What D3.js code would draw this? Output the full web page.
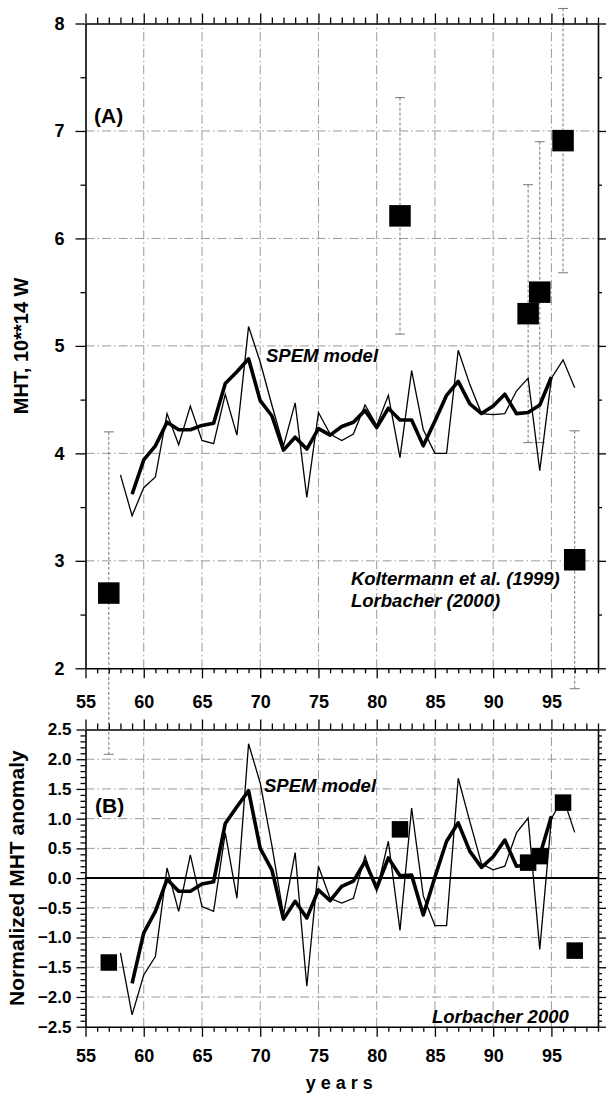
<!DOCTYPE html>
<html>
<head>
<meta charset="utf-8">
<script src="https://cdn.jsdelivr.net/npm/d3@7"></script>
<style>
  body { margin: 0; background: #fff; }
  svg { display: block; font-family: "Liberation Sans", Arial, sans-serif; }
</style>
</head>
<body>
<div id="chart"></div>
<script>
// years of the two model curves
const thinYears = [58, 59, 60, 61, 62, 63, 64, 65, 66, 67, 68, 69, 70, 71, 72, 73, 74, 75, 76, 77,
  78, 79, 80, 81, 82, 83, 84, 85, 86, 87, 88, 89, 90, 91, 92, 93, 94, 95, 96, 97];
const thickYears = [59, 60, 61, 62, 63, 64, 65, 66, 67, 68, 69, 70, 71, 72, 73, 74, 75, 76, 77,
  78, 79, 80, 81, 82, 83, 84, 85, 86, 87, 88, 89, 90, 91, 92, 93, 94, 95];

// panel A: MHT, 10**14 W
const thinA = [3.80, 3.42, 3.68, 3.78, 4.37, 4.08, 4.44, 4.12, 4.09, 4.55, 4.17, 5.18, 4.85, 4.45,
  4.07, 4.47, 3.59, 4.38, 4.18, 4.12, 4.18, 4.45, 4.26, 4.54, 3.96, 4.77, 4.22, 4.00, 4.00, 4.96,
  4.64, 4.37, 4.36, 4.37, 4.58, 4.70, 3.84, 4.70, 4.87, 4.61];
const thickA = [3.62, 3.94, 4.07, 4.29, 4.22, 4.22, 4.26, 4.28, 4.65, 4.76, 4.88, 4.49, 4.35, 4.03,
  4.15, 4.04, 4.23, 4.17, 4.25, 4.29, 4.40, 4.24, 4.42, 4.31, 4.31, 4.07, 4.30, 4.54, 4.67, 4.46,
  4.37, 4.44, 4.55, 4.37, 4.38, 4.45, 4.71];

// panel B: normalized anomaly
const thinB = [-1.26, -2.30, -1.63, -1.32, 0.17, -0.56, 0.39, -0.48, -0.56, 0.76, -0.34, 2.26, 1.60,
  0.55, -0.62, 0.43, -1.82, 0.20, -0.34, -0.42, -0.34, 0.37, -0.22, 0.62, -0.88, 1.18, -0.30, -0.80,
  -0.80, 1.68, 0.95, 0.24, 0.14, 0.20, 0.76, 1.01, -1.20, 1.00, 1.36, 0.77];
const thickB = [-1.77, -0.92, -0.56, -0.02, -0.22, -0.22, -0.10, -0.06, 0.92, 1.20, 1.47, 0.50, 0.14,
  -0.69, -0.39, -0.67, -0.20, -0.38, -0.14, -0.05, 0.28, -0.17, 0.34, 0.04, 0.05, -0.62, 0.02, 0.62,
  0.93, 0.45, 0.18, 0.36, 0.64, 0.20, 0.22, 0.38, 1.04];

// observations (Koltermann et al. 1999, Lorbacher 2000)
const obsYears = [57, 82, 93, 94, 96, 97];
const obsA = [2.70, 6.21, 5.30, 5.50, 6.91, 3.01];
const obsErrA = [1.5, 1.1, 1.2, 1.4, 1.23, 1.2];
const obsB = [-1.42, 0.82, 0.26, 0.37, 1.27, -1.22];

// axis ticks
const xMajorTicks = [55, 60, 65, 70, 75, 80, 85, 90, 95];
const xGridTicks = [60, 65, 70, 75, 80, 85, 90, 95];
const yTicksA = [2, 3, 4, 5, 6, 7, 8];
const yGridA = [3, 4, 5, 6, 7];
const yTicksB = [-2.5, -2.0, -1.5, -1.0, -0.5, 0.0, 0.5, 1.0, 1.5, 2.0, 2.5];
const yGridB = [-2.0, -1.5, -1.0, -0.5, 0.5, 1.0, 1.5, 2.0];

const width = 607;
const height = 1094;
const gridColor = '#9a9a9a';
const gridDash = '9,3,1.5,3';
const labelFont = '18px';

const svg = d3.select('#chart')
  .append('svg')
  .attr('width', width)
  .attr('height', height);

svg.append('rect').attr('width', width).attr('height', height).attr('fill', 'white');

const xScale = d3.scaleLinear().domain([55, 99]).range([85.5, 598]);
const yA = d3.scaleLinear().domain([2, 8]).range([668.3, 23.5]);
const yB = d3.scaleLinear().domain([-2.5, 2.5]).range([1026.7, 729.5]);

const minorYears = d3.range(55, 100).filter(v => v % 5 !== 0);

function drawGrid(g, yScale, yGrid) {
  const [y0, y1] = yScale.range();
  g.append('g')
    .selectAll('line')
    .data(xGridTicks)
    .join('line')
    .attr('x1', d => xScale(d)).attr('x2', d => xScale(d))
    .attr('y1', y0).attr('y2', y1)
    .attr('stroke', gridColor)
    .attr('stroke-width', 1)
    .attr('stroke-dasharray', gridDash);

  g.append('g')
    .selectAll('line')
    .data(yGrid)
    .join('line')
    .attr('x1', xScale.range()[0]).attr('x2', xScale.range()[1])
    .attr('y1', d => yScale(d)).attr('y2', d => yScale(d))
    .attr('stroke', gridColor)
    .attr('stroke-width', 1)
    .attr('stroke-dasharray', gridDash);
}

function styleAxis(sel, fontSize) {
  sel.select('.domain').attr('stroke', '#000').attr('stroke-width', 1.6);
  sel.selectAll('line').attr('stroke', '#000').attr('stroke-width', 1.3);
  sel.selectAll('text')
    .attr('fill', '#000')
    .attr('font-weight', 'bold')
    .attr('font-size', fontSize)
    .attr('font-family', '"Liberation Sans", Arial, sans-serif');
}

function drawFrame(g, yScale, yMajor, yMinor, opts) {
  const [yBottom, yTop] = yScale.range();
  const [xLeft, xRight] = xScale.range();

  // bottom axis with labels
  const bottom = g.append('g')
    .attr('transform', `translate(0, ${yBottom})`)
    .call(d3.axisBottom(xScale).tickValues(xMajorTicks).tickSize(10).tickSizeOuter(0)
      .tickPadding(opts.xPad).tickFormat(d3.format('d')));
  styleAxis(bottom, labelFont);
  g.append('g')
    .attr('transform', `translate(0, ${yBottom})`)
    .call(d3.axisBottom(xScale).tickValues(minorYears).tickSize(5).tickFormat(''))
    .call(s => { s.select('.domain').remove(); styleAxis(s, labelFont); });

  // top axis
  const top = g.append('g')
    .attr('transform', `translate(0, ${yTop})`)
    .call(d3.axisTop(xScale).tickValues(xMajorTicks).tickSize(10).tickSizeOuter(0).tickFormat(''));
  styleAxis(top, labelFont);
  g.append('g')
    .attr('transform', `translate(0, ${yTop})`)
    .call(d3.axisTop(xScale).tickValues(minorYears).tickSize(6).tickFormat(''))
    .call(s => { s.select('.domain').remove(); styleAxis(s, labelFont); });

  // left axis with labels
  const left = g.append('g')
    .attr('transform', `translate(${xLeft}, 0)`)
    .call(d3.axisLeft(yScale).tickValues(yMajor).tickSize(opts.yMajorSize).tickSizeOuter(0)
      .tickPadding(opts.yPad).tickFormat(opts.yFormat));
  styleAxis(left, opts.yFont);
  g.append('g')
    .attr('transform', `translate(${xLeft}, 0)`)
    .call(d3.axisLeft(yScale).tickValues(yMinor).tickSize(opts.yMinorSize).tickFormat(''))
    .call(s => { s.select('.domain').remove(); styleAxis(s, labelFont); });

  // right axis
  const right = g.append('g')
    .attr('transform', `translate(${xRight}, 0)`)
    .call(d3.axisRight(yScale).tickValues(yMajor).tickSize(8).tickSizeOuter(0).tickFormat(''));
  styleAxis(right, labelFont);
  g.append('g')
    .attr('transform', `translate(${xRight}, 0)`)
    .call(d3.axisRight(yScale).tickValues(yMinor).tickSize(4).tickFormat(''))
    .call(s => { s.select('.domain').remove(); styleAxis(s, labelFont); });
}

function drawCurves(g, yScale, thin, thick) {
  const line = d3.line()
    .x(d => xScale(d[0]))
    .y(d => yScale(d[1]));

  g.append('path')
    .datum(d3.zip(thinYears, thin))
    .attr('fill', 'none')
    .attr('stroke', '#000')
    .attr('stroke-width', 1.3)
    .attr('stroke-linejoin', 'miter')
    .attr('d', line);

  g.append('path')
    .datum(d3.zip(thickYears, thick))
    .attr('fill', 'none')
    .attr('stroke', '#000')
    .attr('stroke-width', 3.6)
    .attr('stroke-linejoin', 'round')
    .attr('d', line);
}

function drawSquares(g, yScale, values, size) {
  g.append('g')
    .selectAll('rect')
    .data(d3.zip(obsYears, values))
    .join('rect')
    .attr('x', d => xScale(d[0]) - size / 2)
    .attr('y', d => yScale(d[1]) - size / 2)
    .attr('width', size)
    .attr('height', size)
    .attr('fill', '#000');
}

function addText(g, txt, x, y, size, italic, anchor) {
  g.append('text')
    .attr('x', x)
    .attr('y', y)
    .attr('font-size', size)
    .attr('font-weight', 'bold')
    .attr('font-style', italic ? 'italic' : 'normal')
    .attr('text-anchor', anchor || 'start')
    .attr('fill', '#000')
    .text(txt);
}

/* ---------- panel A ---------- */
const panelA = svg.append('g').attr('class', 'panel-a');
drawGrid(panelA, yA, yGridA);

// error bars of the observations
const errBars = panelA.append('g');
d3.zip(obsYears, obsA, obsErrA).forEach(([yr, v, e]) => {
  const cx = xScale(yr);
  errBars.append('line')
    .attr('x1', cx).attr('x2', cx)
    .attr('y1', yA(v + e)).attr('y2', yA(v - e))
    .attr('stroke', '#777')
    .attr('stroke-width', 1)
    .attr('stroke-dasharray', '3,2');
  [v + e, v - e].forEach(end => {
    errBars.append('line')
      .attr('x1', cx - 5).attr('x2', cx + 5)
      .attr('y1', yA(end)).attr('y2', yA(end))
      .attr('stroke', '#777')
      .attr('stroke-width', 1);
  });
});

drawCurves(panelA, yA, thinA, thickA);
drawSquares(panelA, yA, obsA, 21.5);
drawFrame(panelA, yA, yTicksA, [2.5, 3.5, 4.5, 5.5, 6.5, 7.5], {
  xPad: 17, yPad: 11, yMajorSize: 10, yMinorSize: 5, yFont: labelFont, yFormat: d3.format('d')
});

addText(panelA, '(A)', 94, 123, '21px', false);
addText(panelA, 'SPEM model', 266, 362, '18.5px', true);
addText(panelA, 'Koltermann et al. (1999)', 351, 585, '18.5px', true);
addText(panelA, 'Lorbacher (2000)', 351, 607, '18.5px', true);

svg.append('text')
  .attr('transform', `translate(28, ${(yA.range()[0] + yA.range()[1]) / 2}) rotate(-90)`)
  .attr('text-anchor', 'middle')
  .attr('font-size', '20px')
  .attr('font-weight', 'bold')
  .text('MHT, 10**14 W');

/* ---------- panel B ---------- */
const panelB = svg.append('g').attr('class', 'panel-b');
drawGrid(panelB, yB, yGridB);

panelB.append('line')
  .attr('x1', xScale.range()[0]).attr('x2', xScale.range()[1])
  .attr('y1', yB(0)).attr('y2', yB(0))
  .attr('stroke', '#000')
  .attr('stroke-width', 2);

drawCurves(panelB, yB, thinB, thickB);
drawSquares(panelB, yB, obsB, 16.5);
drawFrame(panelB, yB, yTicksB, d3.range(-25, 26).filter(v => v % 5 !== 0).map(v => v / 10), {
  xPad: 13, yPad: 5, yMajorSize: 9, yMinorSize: 5, yFont: '17px', yFormat: d3.format('.1f')
});

addText(panelB, '(B)', 95, 813, '21px', false);
addText(panelB, 'SPEM model', 264, 792, '18.5px', true);
addText(panelB, 'Lorbacher 2000', 432, 1023, '18.5px', true);

svg.append('text')
  .attr('transform', `translate(24, ${(yB.range()[0] + yB.range()[1]) / 2}) rotate(-90)`)
  .attr('text-anchor', 'middle')
  .attr('font-size', '21px')
  .attr('font-weight', 'bold')
  .text('Normalized MHT anomaly');

svg.append('text')
  .attr('x', xScale(77))
  .attr('y', 1089)
  .attr('text-anchor', 'middle')
  .attr('font-size', '18px')
  .attr('font-weight', 'bold')
  .attr('letter-spacing', '5px')
  .text('years');
</script>
</body>
</html>
